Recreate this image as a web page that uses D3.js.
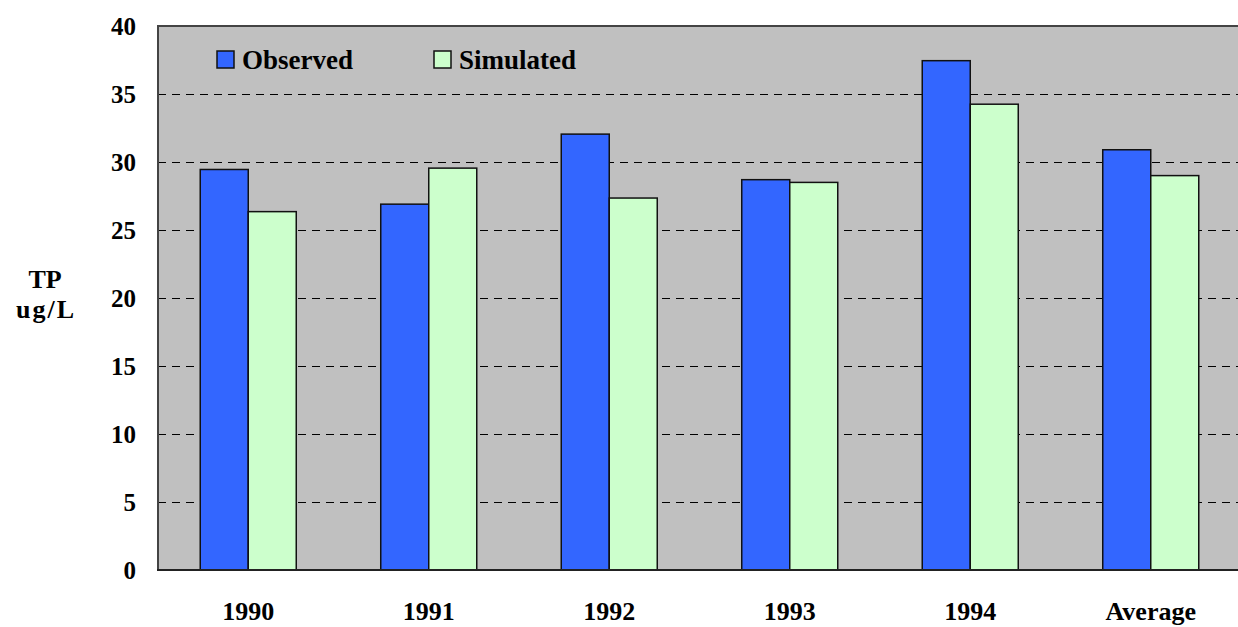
<!DOCTYPE html>
<html>
<head>
<meta charset="utf-8">
<script src="https://cdn.jsdelivr.net/npm/d3@7"></script>
<style>
  body { margin: 0; background: #fff; }
  text { font-family: "Liberation Serif", "Times New Roman", "DejaVu Serif", serif; font-weight: bold; fill: #000; }
</style>
</head>
<body>
<svg width="1238" height="627"></svg>
<script>
var categories = ["1990", "1991", "1992", "1993", "1994", "Average"];
var series = ["Observed", "Simulated"];
var observed = [29.45, 26.9, 32.05, 28.7, 37.45, 30.9];
var simulated = [26.35, 29.55, 27.35, 28.5, 34.25, 29.0];
var yTicks = [0, 5, 10, 15, 20, 25, 30, 35, 40];
var colors = ["#3366ff", "#ccffcc"];

var svg = d3.select("svg"),
    width = +svg.attr("width"),
    height = +svg.attr("height");

var plotL = 158, plotT = 26, plotR = 1241, plotB = 570;

var x = d3.scaleBand().domain(categories).range([plotL, plotR]).padding(0);
// two bars of ~48px centred in each category
var xs = d3.scaleBand().domain(series).range([0, x.bandwidth()]).paddingInner(0).paddingOuter(0.88);
var y = d3.scaleLinear().domain([0, 40]).range([plotB, plotT]);

// plot background
svg.append("rect")
    .attr("x", plotL).attr("y", plotT)
    .attr("width", plotR - plotL).attr("height", plotB - plotT)
    .attr("fill", "#c0c0c0");

// gridlines
svg.append("g").selectAll("line")
    .data(yTicks.filter(function(d) { return d > 0 && d < 40; }))
    .enter().append("line")
      .attr("x1", plotL).attr("x2", plotR)
      .attr("y1", function(d) { return Math.round(y(d)) + 0.5; })
      .attr("y2", function(d) { return Math.round(y(d)) + 0.5; })
      .attr("stroke", "#000")
      .attr("stroke-width", 1)
      .attr("stroke-dasharray", "8,6");

// bars
var rows = categories.map(function(c, i) {
  return { cat: c, vals: [observed[i], simulated[i]] };
});
var group = svg.append("g").selectAll("g")
    .data(rows)
    .enter().append("g")
      .attr("transform", function(d) { return "translate(" + x(d.cat) + ",0)"; });
group.selectAll("rect")
    .data(function(d) { return d.vals.map(function(v, j) { return { s: series[j], v: v, j: j }; }); })
    .enter().append("rect")
      .attr("x", function(d) { return xs(d.s); })
      .attr("y", function(d) { return y(d.v); })
      .attr("width", xs.bandwidth())
      .attr("height", function(d) { return y(0) - y(d.v); })
      .attr("fill", function(d) { return colors[d.j]; })
      .attr("stroke", "#111")
      .attr("stroke-width", 1.5);

// frame: top and left borders, bottom axis
svg.append("path")
    .attr("d", "M" + plotL + "," + plotB + "V" + plotT + "H" + plotR)
    .attr("fill", "none")
    .attr("stroke", "#444")
    .attr("stroke-width", 2);
svg.append("line")
    .attr("x1", plotL - 1).attr("x2", plotR)
    .attr("y1", plotB).attr("y2", plotB)
    .attr("stroke", "#222")
    .attr("stroke-width", 2);

// y tick labels
svg.append("g").selectAll("text")
    .data(yTicks)
    .enter().append("text")
      .attr("x", 136)
      .attr("y", function(d) { return y(d); })
      .attr("dy", "0.35em")
      .attr("text-anchor", "end")
      .style("font-size", "25px")
      .text(function(d) { return d; });

// x labels
svg.append("g").selectAll("text")
    .data(categories)
    .enter().append("text")
      .attr("x", function(d) { return x(d) + x.bandwidth() / 2; })
      .attr("y", 620)
      .attr("text-anchor", "middle")
      .style("font-size", "26px")
      .text(function(d) { return d; });

// y axis title
svg.append("text").attr("x", 45).attr("y", 288).attr("text-anchor", "middle")
    .style("font-size", "26px").text("TP");
svg.append("text").attr("x", 46).attr("y", 318).attr("text-anchor", "middle")
    .style("font-size", "26px").style("letter-spacing", "2px").text("ug/L");

// legend
var legendX = [217, 434];
var legend = svg.append("g").selectAll("g")
    .data(series)
    .enter().append("g")
      .attr("transform", function(d, i) { return "translate(" + legendX[i] + ",51)"; });
legend.append("rect")
    .attr("width", 17).attr("height", 17)
    .attr("fill", function(d, i) { return colors[i]; })
    .attr("stroke", "#111").attr("stroke-width", 1.5);
legend.append("text")
    .attr("x", 25).attr("y", 18)
    .style("font-size", "27px")
    .text(function(d) { return d; });
</script>
</body>
</html>
